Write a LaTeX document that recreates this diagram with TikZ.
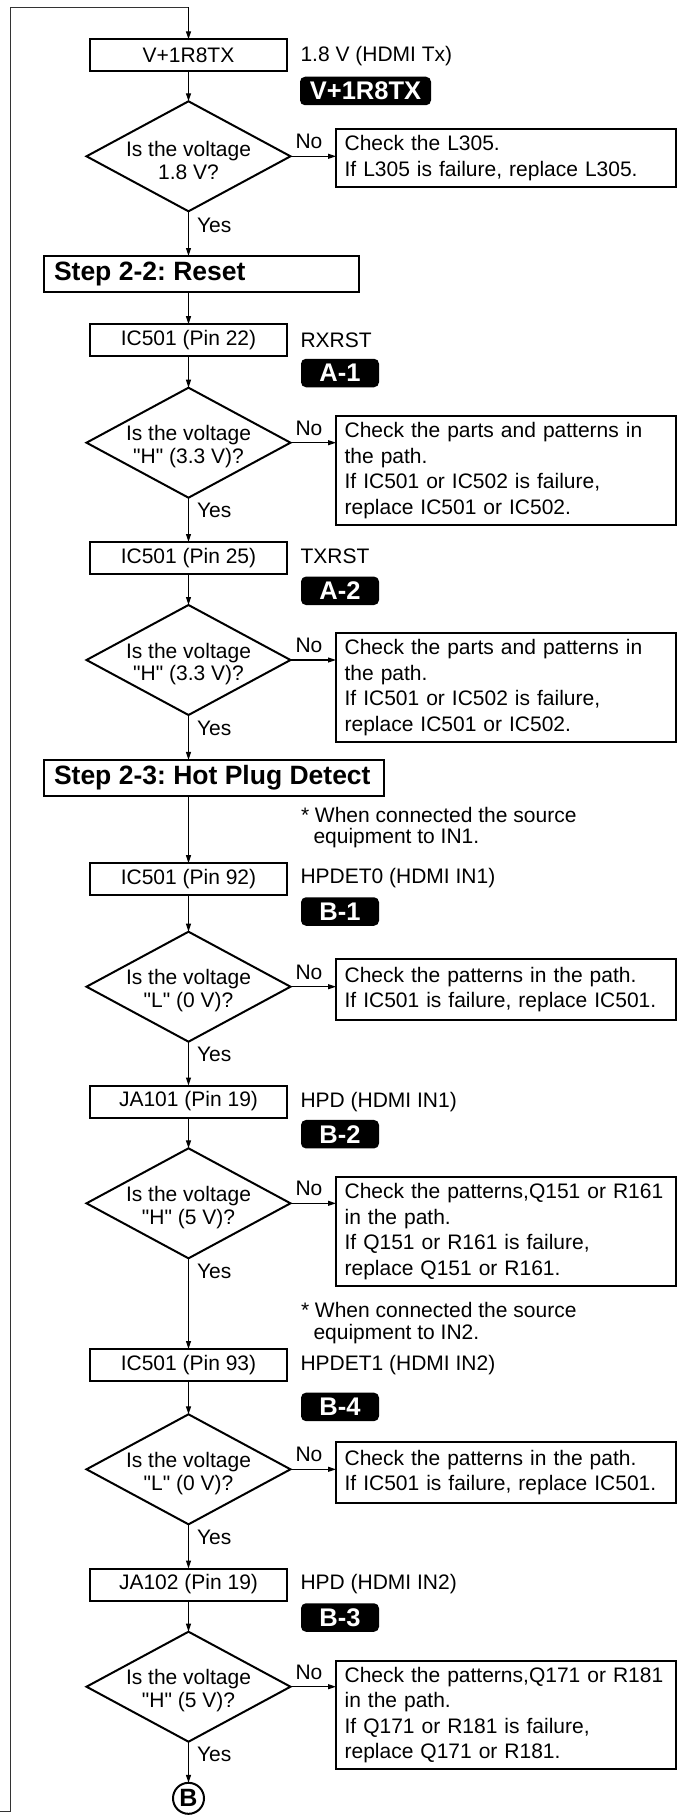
\documentclass[tikz,border=0pt]{standalone}
\usepackage{fontspec}
\setmainfont{Liberation Sans}
\usetikzlibrary{shapes.geometric,arrows.meta}
\frenchspacing
\begin{document}
\begin{tikzpicture}[x=1pt,y=-1pt,
  every node/.style={font=\fontsize{21}{25.5}\selectfont\frenchspacing, inner sep=0pt, outer sep=0pt},
  arr/.style={-{Triangle[length=8pt,width=5pt]}, line width=1.1pt},
  loopline/.style={line width=1.2pt, draw=black!80},
  pinbox/.style={draw, line width=2pt, minimum width=197.5pt, minimum height=32pt},
  stepbox/.style={draw, line width=2pt, minimum height=36pt, anchor=west,
    inner xsep=10pt, font=\fontsize{26.5}{28}\selectfont\bfseries\frenchspacing},
  checkbox/.style={draw, line width=2pt, anchor=north west, align=left,
    text width=323pt, inner xsep=8.6pt},
  dia/.style={draw, shape=diamond, line width=2pt, minimum width=204pt, minimum height=110pt},
  dtext/.style={align=center, font=\fontsize{21}{22.5}\selectfont},
  side/.style={anchor=west},
  badge/.style={fill=black, text=white, rounded corners=5pt, minimum height=28.5pt,
    minimum width=78pt, inner xsep=8pt, font=\fontsize{25.5}{26}\selectfont\bfseries},
  note/.style={anchor=west, align=left, font=\fontsize{21}{21.5}\selectfont},
  yes/.style={anchor=west},
  no/.style={anchor=center},
  conn/.style={draw, circle, line width=2pt, minimum size=31pt, font=\fontsize{25}{25}\selectfont\bfseries}
]
\useasboundingbox (0,0) rectangle (678,1817);

% ---------- nodes ----------
\node[pinbox] (b1) at (188.5,55.3) {V+1R8TX};
\node[side] (l1) at (300.5,56) {1.8 V (HDMI Tx)};
\node[badge, minimum width=131pt] (g1) at (365.5,91) {V+1R8TX};
\node[dia] (d1) at (188.5,156.3) {};
\node[dtext] (t1) at (188.5,160.3) {Is the voltage\\1.8 V?};
\node[checkbox, minimum height=58pt] (c1) at (336,129.3) {Check the L305.\\If L305 is failure, replace L305.};

\node[stepbox] (s22) at (44,274) {\makebox[295pt][l]{Step 2-2: Reset}};

\node[pinbox] (b2) at (188.5,340.2) {IC501 (Pin 22)};
\node[side] (l2) at (300.5,340) {RXRST};
\node[badge] (g2) at (340,373) {A-1};
\node[dia] (d2) at (188.5,442.7) {};
\node[dtext] (t2) at (188.5,446.7) {Is the voltage\\\textquotedbl H\textquotedbl{} (3.3 V)?};
\node[checkbox, minimum height=109pt] (c2) at (336,416) {Check the parts and patterns in\\the path.\\If IC501 or IC502 is failure,\\replace IC501 or IC502.};

\node[pinbox] (b3) at (188.5,558) {IC501 (Pin 25)};
\node[side] (l3) at (300.5,556.7) {TXRST};
\node[badge] (g3) at (340,590.8) {A-2};
\node[dia] (d3) at (188.5,660) {};
\node[dtext] (t3) at (188.5,664) {Is the voltage\\\textquotedbl H\textquotedbl{} (3.3 V)?};
\node[checkbox, minimum height=109pt] (c3) at (336,633.3) {Check the parts and patterns in\\the path.\\If IC501 or IC502 is failure,\\replace IC501 or IC502.};

\node[stepbox] (s23) at (44,777.9) {\makebox[320pt][l]{Step 2-3: Hot Plug Detect}};

\node[note] (n1) at (301,827.5) {* When connected the source\\\hspace*{12.5pt}equipment to IN1.};

\node[pinbox] (b4) at (188.5,879.2) {IC501 (Pin 92)};
\node[side] (l4) at (300.5,878.3) {HPDET0 (HDMI IN1)};
\node[badge] (g4) at (340,911.5) {B-1};
\node[dia] (d4) at (188.5,986.7) {};
\node[dtext] (t4) at (188.5,990.7) {Is the voltage\\\textquotedbl L\textquotedbl{} (0 V)?};
\node[checkbox, minimum height=60.7pt] (c4) at (336,959.3) {Check the patterns in the path.\\If IC501 is failure, replace IC501.};

\node[pinbox] (b5) at (188.5,1101.5) {JA101 (Pin 19)};
\node[side] (l5) at (300.5,1101.7) {HPD (HDMI IN1)};
\node[badge] (g5) at (340,1134.2) {B-2};
\node[dia] (d5) at (188.5,1203.3) {};
\node[dtext] (t5) at (188.5,1207.3) {Is the voltage\\\textquotedbl H\textquotedbl{} (5 V)?};
\node[checkbox, minimum height=108.7pt] (c5) at (336,1177.3) {Check the patterns,Q151 or R161\\in the path.\\If Q151 or R161 is failure,\\replace Q151 or R161.};

\node[note] (n2) at (301,1323.3) {* When connected the source\\\hspace*{12.5pt}equipment to IN2.};

\node[pinbox] (b6) at (188.5,1365) {IC501 (Pin 93)};
\node[side] (l6) at (300.5,1365) {HPDET1 (HDMI IN2)};
\node[badge] (g6) at (340,1406.9) {B-4};
\node[dia] (d6) at (188.5,1469.3) {};
\node[dtext] (t6) at (188.5,1473.3) {Is the voltage\\\textquotedbl L\textquotedbl{} (0 V)?};
\node[checkbox, minimum height=61.6pt] (c6) at (336,1441.7) {Check the patterns in the path.\\If IC501 is failure, replace IC501.};

\node[pinbox] (b7) at (188.5,1584.5) {JA102 (Pin 19)};
\node[side] (l7) at (300.5,1584) {HPD (HDMI IN2)};
\node[badge] (g7) at (340,1617.5) {B-3};
\node[dia] (d7) at (188.5,1686.7) {};
\node[dtext] (t7) at (188.5,1690.7) {Is the voltage\\\textquotedbl H\textquotedbl{} (5 V)?};
\node[checkbox, minimum height=108pt] (c7) at (336,1661) {Check the patterns,Q171 or R181\\in the path.\\If Q171 or R181 is failure,\\replace Q171 or R181.};

\node[conn] (cb) at (188.5,1798.3) {B};

% ---------- loop line ----------
\coordinate (la) at (0,1811.5);
\coordinate (lb) at (10.7,1811.5);
\coordinate (lc) at (10.7,7.3);
\coordinate (ld) at (188.5,7.3);
\draw[loopline] (la) -- (lb) -- (lc) -- (ld);
\draw[arr] (ld) -- (b1.north);

% ---------- vertical flow ----------
\draw[arr] (b1) -- (d1);
\draw[arr] (d1) -- (s22.north -| d1.south);
\draw[arr] (s22.south -| d1.south) -- (b2);
\draw[arr] (b2) -- (d2);
\draw[arr] (d2) -- (b3);
\draw[arr] (b3) -- (d3);
\draw[arr] (d3) -- (s23.north -| d3.south);
\draw[arr] (s23.south -| d3.south) -- (b4);
\draw[arr] (b4) -- (d4);
\draw[arr] (d4) -- (b5);
\draw[arr] (b5) -- (d5);
\draw[arr] (d5) -- (b6);
\draw[arr] (b6) -- (d6);
\draw[arr] (d6) -- (b7);
\draw[arr] (b7) -- (d7);
\draw[arr] (d7) -- (cb);

% ---------- No branches ----------
\foreach \i in {1,...,7}{
  \draw[arr] (d\i.east) -- (d\i.east -| c\i.west);
}

% ---------- labels ----------
\foreach \i/\yb/\yn in {1/225/141.7, 2/510/428.1, 3/728/645.4, 4/1054.7/972.1, 5/1271.7/1188.7, 6/1537.3/1454.7, 7/1754.7/1672.1}{
  \node[yes] (yes\i) at (197,\yb) {Yes};
  \node[no] (no\i) at (309,\yn) {No};
}
\end{tikzpicture}
\end{document}
